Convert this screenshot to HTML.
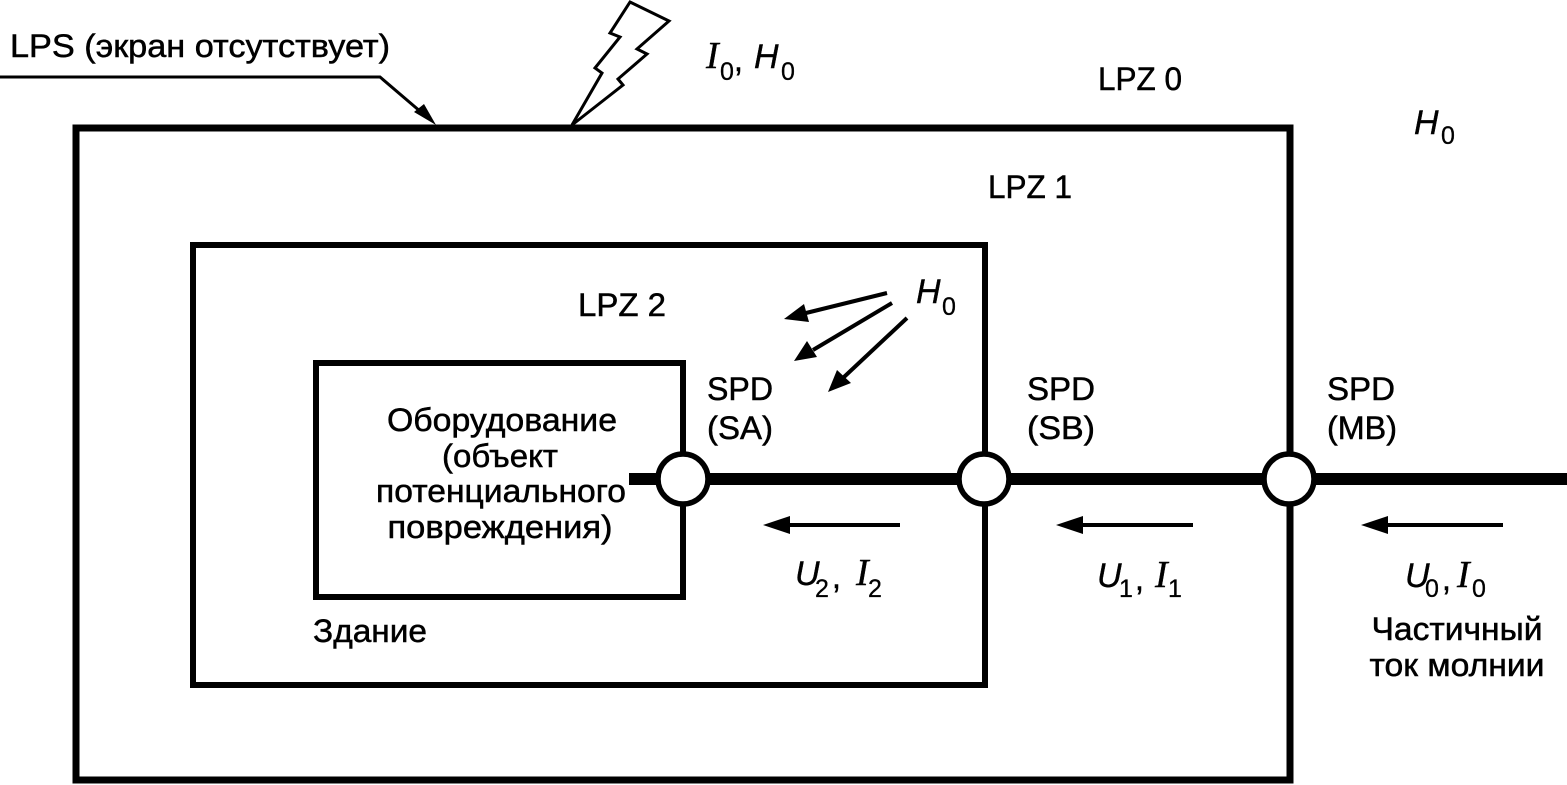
<!DOCTYPE html>
<html>
<head>
<meta charset="utf-8">
<style>
  html, body { margin: 0; padding: 0; background: #ffffff; }
  svg { display: block; }
  .t { font-family: "Liberation Sans", "DejaVu Sans", sans-serif; font-size: 32px; fill: #000; stroke: #000; stroke-width: 0.5px; }
  .it { font-family: "Liberation Sans", "DejaVu Sans", sans-serif; font-style: italic; font-size: 34px; fill: #000; stroke: #000; stroke-width: 0.4px; }
  .its { font-family: "Liberation Serif", "DejaVu Serif", serif; font-style: italic; font-size: 38px; fill: #000; stroke: #000; stroke-width: 0.4px; }
  .sub { font-family: "Liberation Sans", "DejaVu Sans", sans-serif; font-size: 25px; fill: #000; stroke: #000; stroke-width: 0.3px; }
</style>
</head>
<body>
<svg width="1567" height="785" viewBox="0 0 1567 785" xmlns="http://www.w3.org/2000/svg">
  <rect x="0" y="0" width="1567" height="785" fill="#fff"/>

  <!-- Outer box (LPS) -->
  <rect x="76" y="128" width="1214" height="652" fill="none" stroke="#000" stroke-width="7"/>
  <!-- LPZ 1 box (building) -->
  <rect x="193" y="245" width="792" height="440" fill="none" stroke="#000" stroke-width="6"/>
  <!-- Equipment box -->
  <rect x="316" y="363" width="367" height="234" fill="none" stroke="#000" stroke-width="6"/>

  <!-- Bus line -->
  <line x1="629" y1="479" x2="1567" y2="479" stroke="#000" stroke-width="12"/>

  <!-- SPD circles -->
  <circle cx="683" cy="479" r="25" fill="#fff" stroke="#000" stroke-width="5.5"/>
  <circle cx="984" cy="479" r="25" fill="#fff" stroke="#000" stroke-width="5.5"/>
  <circle cx="1289" cy="479" r="25" fill="#fff" stroke="#000" stroke-width="5.5"/>

  <!-- Lightning bolt -->
  <polygon points="630,2 669,21 637,49 647,54 618,79 623,85 572,125 602,73 595,68 620,37 610,33"
           fill="#fff" stroke="#000" stroke-width="3" stroke-linejoin="miter"/>

  <!-- LPS leader -->
  <polyline points="0,77 380,77 428,118" fill="none" stroke="#000" stroke-width="3"/>
  <polygon points="436,125 414,112 424,104" fill="#000"/>

  <!-- Current arrows -->
  <line x1="900" y1="525" x2="785" y2="525" stroke="#000" stroke-width="4"/>
  <polygon points="763,525 790,516 790,534" fill="#000"/>
  <line x1="1193" y1="525" x2="1078" y2="525" stroke="#000" stroke-width="4"/>
  <polygon points="1056,525 1083,516 1083,534" fill="#000"/>
  <line x1="1503" y1="525" x2="1383" y2="525" stroke="#000" stroke-width="4"/>
  <polygon points="1361,525 1388,516 1388,534" fill="#000"/>

  <!-- H0 field arrows -->
  <line x1="887" y1="293" x2="806" y2="313" stroke="#000" stroke-width="4"/>
  <polygon points="784,319 804,304 809,322" fill="#000"/>
  <line x1="892" y1="303" x2="813" y2="350" stroke="#000" stroke-width="4"/>
  <polygon points="794,361 807,341 817,357" fill="#000"/>
  <line x1="907" y1="318" x2="844" y2="377" stroke="#000" stroke-width="4"/>
  <polygon points="828,392 837,370 851,383" fill="#000"/>

  <!-- Labels -->
  <text class="t" x="10" y="57" textLength="380" lengthAdjust="spacingAndGlyphs">LPS (экран отсутствует)</text>
  <text class="t" x="1098" y="90" textLength="84" lengthAdjust="spacingAndGlyphs">LPZ 0</text>
  <text class="t" x="988" y="198" textLength="84" lengthAdjust="spacingAndGlyphs">LPZ 1</text>
  <text class="t" x="578" y="316" textLength="88" lengthAdjust="spacingAndGlyphs">LPZ 2</text>

  <text class="t" x="707" y="400" textLength="66" lengthAdjust="spacingAndGlyphs">SPD</text>
  <text class="t" x="707" y="439" textLength="66" lengthAdjust="spacingAndGlyphs">(SA)</text>
  <text class="t" x="1027" y="400" textLength="68" lengthAdjust="spacingAndGlyphs">SPD</text>
  <text class="t" x="1027" y="439" textLength="68" lengthAdjust="spacingAndGlyphs">(SB)</text>
  <text class="t" x="1327" y="400" textLength="68" lengthAdjust="spacingAndGlyphs">SPD</text>
  <text class="t" x="1327" y="439" textLength="70" lengthAdjust="spacingAndGlyphs">(MB)</text>

  <text class="t" x="502" y="431" text-anchor="middle" textLength="230" lengthAdjust="spacingAndGlyphs">Оборудование</text>
  <text class="t" x="500" y="467" text-anchor="middle" textLength="116" lengthAdjust="spacingAndGlyphs">(объект</text>
  <text class="t" x="501" y="502" text-anchor="middle" textLength="250" lengthAdjust="spacingAndGlyphs">потенциального</text>
  <text class="t" x="500" y="538" text-anchor="middle" textLength="225" lengthAdjust="spacingAndGlyphs">повреждения)</text>

  <text class="t" x="313" y="642" textLength="114" lengthAdjust="spacingAndGlyphs">Здание</text>

  <text class="t" x="1457" y="640" text-anchor="middle" textLength="171" lengthAdjust="spacingAndGlyphs">Частичный</text>
  <text class="t" x="1457" y="676" text-anchor="middle" textLength="175" lengthAdjust="spacingAndGlyphs">ток молнии</text>

  <!-- I0, H0 (top) -->
  <text class="its" x="706" y="68">I</text>
  <text class="sub" x="720" y="80">0</text>
  <text class="t" x="734" y="71">,</text>
  <text class="it" x="754" y="68">H</text>
  <text class="sub" x="781" y="80">0</text>

  <!-- H0 right top -->
  <text class="it" x="1414" y="134">H</text>
  <text class="sub" x="1441" y="144">0</text>

  <!-- H0 near arrows -->
  <text class="it" x="916" y="303">H</text>
  <text class="sub" x="942" y="315">0</text>

  <!-- U2, I2 -->
  <text class="it" x="795" y="585">U</text>
  <text class="sub" x="815" y="597">2</text>
  <text class="t" x="832" y="588">,</text>
  <text class="its" x="856" y="585">I</text>
  <text class="sub" x="868" y="597">2</text>

  <!-- U1, I1 -->
  <text class="it" x="1097" y="587">U</text>
  <text class="sub" x="1119" y="597">1</text>
  <text class="t" x="1135" y="590">,</text>
  <text class="its" x="1155" y="587">I</text>
  <text class="sub" x="1168" y="597">1</text>

  <!-- U0, I0 -->
  <text class="it" x="1405" y="587">U</text>
  <text class="sub" x="1425" y="597">0</text>
  <text class="t" x="1442" y="590">,</text>
  <text class="its" x="1457" y="587">I</text>
  <text class="sub" x="1472" y="597">0</text>
</svg>
</body>
</html>
